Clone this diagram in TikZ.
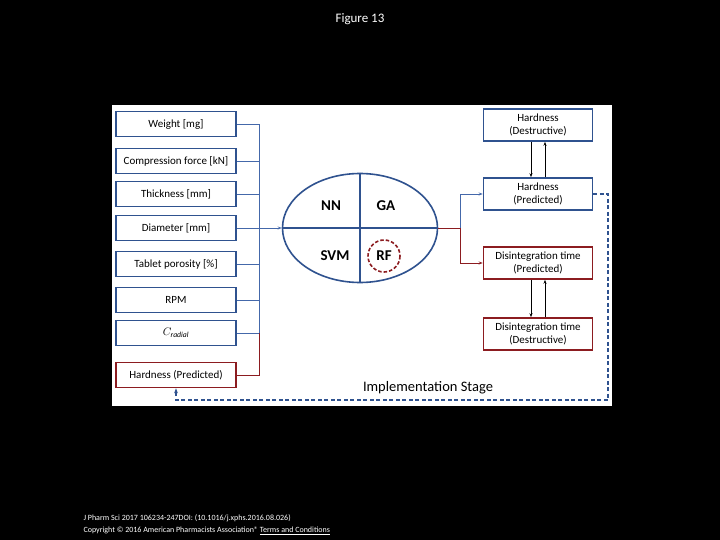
\documentclass[tikz,border=0pt]{standalone}
\usepackage{fontspec}
\setmainfont{Carlito}
\usetikzlibrary{arrows.meta,shapes.geometric}
\definecolor{boxblue}{RGB}{47,82,143}
\definecolor{lineblue}{RGB}{68,104,170}
\definecolor{boxred}{RGB}{140,28,32}
\tikzset{
    inbox/.style={draw=boxblue, line width=1.6pt, minimum width=120pt, minimum height=25pt, font=\fontsize{11}{12}\selectfont, inner sep=1pt},
    outbox/.style={draw=boxblue, line width=1.6pt, minimum width=109pt, minimum height=32pt, align=center, font=\fontsize{11}{12.5}\selectfont, inner sep=1pt},
    redbox/.style={draw=boxred},
    bus/.style={draw=lineblue, line width=0.8pt},
}
\begin{document}
\begin{tikzpicture}[x=1pt,y=-1pt]
    \useasboundingbox[fill=black] (0,0) rectangle (720,540);
    \fill[white] (112,105) rectangle (612,406);
    \node[white, font=\fontsize{13}{15}\selectfont] (title) at (360,19) {Figure 13};

    % input parameters
    \node[inbox] (weight) at (176,124) {Weight [mg]};
    \node[inbox] (force) at (176,161) {Compression force [kN]};
    \node[inbox] (thick) at (176,194) {Thickness [mm]};
    \node[inbox] (diam) at (176,228) {Diameter [mm]};
    \node[inbox] (poro) at (176,264) {Tablet porosity [\%]};
    \node[inbox] (rpm) at (176,300) {RPM};
    \node[inbox] (crad) at (176,333) {$C_{\mathit{radial}}$};
    \node[inbox, redbox] (hin) at (176,375) {Hardness (Predicted)};

    % models
    \node[draw=boxblue, line width=1.6pt, ellipse, minimum width=155pt, minimum height=109pt, inner sep=0pt] (model) at (360,228) {};
    \draw[boxblue, line width=1.4pt] (model.north) -- (model.south) (model.west) -- (model.east);
    \begin{scope}[font=\bfseries\fontsize{15}{17}\selectfont]
        \node (nn) at (331,206) {NN};
        \node (ga) at (386,206) {GA};
        \node (svm) at (335,256) {SVM};
        \node (rf) at (384,256) {RF};
    \end{scope}
    \draw[boxred, line width=1.6pt, dash pattern=on 3.5pt off 2pt] (rf) circle (16);

    \coordinate (bus) at (259,228);
    \foreach \n in {weight,force,thick,diam,poro,rpm,crad}
        \draw[bus] (\n.east) -| (bus);
    \draw[boxred, line width=0.8pt] (hin.east) -| (259,333);
    \draw[bus, -{Stealth[length=4pt]}] (bus) -- (model.west);

    % outputs
    \node[outbox] (hdes) at (538,125) {Hardness\\(Destructive)};
    \node[outbox] (hpre) at (538,194) {Hardness\\(Predicted)};
    \node[outbox, redbox] (dpre) at (538,263) {Disintegration time\\(Predicted)};
    \node[outbox, redbox] (ddes) at (538,334) {Disintegration time\\(Destructive)};

    \coordinate (split) at (460,228);
    \draw[boxred, line width=0.8pt] (model.east) -- (split);
    \draw[bus, -{Stealth[length=4pt]}] (split) |- (hpre.west);
    \draw[boxred, line width=0.8pt, -{Stealth[length=4pt]}] (split) |- (dpre.west);

    \draw[-{Stealth[length=4pt]}, line width=0.7pt] ([xshift=-7pt]hdes.south) -- ([xshift=-7pt]hpre.north);
    \draw[-{Stealth[length=4pt]}, line width=0.7pt] ([xshift=7pt]hpre.north) -- ([xshift=7pt]hdes.south);
    \draw[-{Stealth[length=4pt]}, line width=0.7pt] ([xshift=-7pt]dpre.south) -- ([xshift=-7pt]ddes.north);
    \draw[-{Stealth[length=4pt]}, line width=0.7pt] ([xshift=7pt]ddes.north) -- ([xshift=7pt]dpre.south);

    % feedback loop
    \draw[boxblue, line width=1.4pt, dash pattern=on 4pt off 2.5pt, -{Stealth[length=5pt]}]
        (hpre.east) -- (608,194) -- (608,400) -| (hin.south);
    \node[font=\fontsize{14.5}{16}\selectfont] (stage) at (428,388) {Implementation Stage};

    % footer
    \node[white, anchor=west, font=\fontsize{8}{9}\selectfont] (cite) at (80,518) {J Pharm Sci 2017 106234-247DOI: (10.1016/j.xphs.2016.08.026)};
    \node[white, anchor=west, font=\fontsize{8}{9}\selectfont] (copy) at (80,531) {Copyright © 2016 American Pharmacists Association® \underline{Terms and Conditions}};
\end{tikzpicture}
\end{document}
